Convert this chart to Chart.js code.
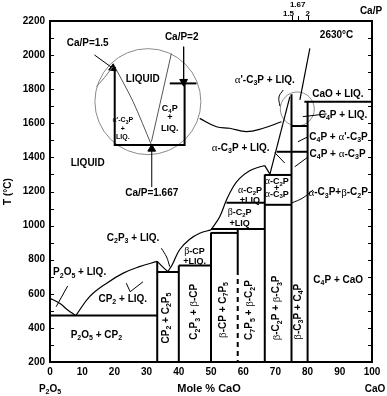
<!DOCTYPE html>
<html>
<head>
<meta charset="utf-8">
<script src="https://cdn.jsdelivr.net/npm/chart.js@4.4.0/dist/chart.umd.min.js"></script>
<style>
  html, body { margin: 0; padding: 0; background: #fff; }
</style>
</head>
<body>
<canvas id="chart" width="387" height="396"></canvas>
<script>
// ---- data (x = mole % CaO, y = T in °C) ----
const tempRange = [200, 2200];
const caPRatios = [1.5, 1.667, 2];

// thick phase boundaries
const boundaries = [
  [[0, 472], [33.3, 472]],
  [[33.3, 200], [33.3, 790]],
  [[33.3, 728], [40, 728]],
  [[40, 200], [40, 766]],
  [[40, 766], [50, 766]],
  [[50, 200], [50, 960]],
  [[50, 957], [58.3, 957]],
  [[58.3, 980], [58.3, 740]],
  [[50, 980], [66.7, 980]],
  [[66.7, 200], [66.7, 1300]],
  [[54.8, 1134], [66.7, 1134]],
  [[66.7, 1122], [75, 1122]],
  [[66.7, 1297], [75, 1297]],
  [[75, 200], [75, 1770]],
  [[70.4, 1433], [80, 1433]],
  [[75, 1584], [80, 1584]],
  [[80, 200], [80, 1727]],
  [[79, 1727], [100, 1727]]
];
const dashedC7P5 = [[58.3, 740], [58.3, 200]];

// liquidus curves
const liqP2O5 = [[0, 574], [3, 544], [5.5, 505], [8, 472]];
const liqCP2 = [[8, 472], [12.3, 583], [17.5, 661], [22.6, 720], [27.8, 759], [33.3, 790]];
const liqC2P3 = [[33.3, 790], [35, 758], [36.6, 730]];
const liqBCP = [[36.6, 730], [38, 772], [40.3, 860], [43.4, 920], [46.5, 955], [50, 975]];
const liqC2P = [[50, 975], [52.7, 1052], [54.8, 1150], [56.9, 1228], [58.9, 1277], [62, 1322], [65.2, 1345], [66.7, 1352]];
const liqC2Pdown = [[66.7, 1352], [68.3, 1302]];
const liqC3P = [[68.3, 1302], [74.5, 1756]];
const liqCaO = [[77.6, 1737], [80.7, 2040]];
const zoomLink = [[46.5, 1629], [51.7, 1580], [55.8, 1571], [61, 1551], [66.2, 1571], [71.9, 1609]];

// magnified inset (drawn in the big circle)
const insetBox = [[20.1, 1932], [20.1, 1473], [41.8, 1473], [41.8, 1834]];
const insetTop = [[37.2, 1834], [45.5, 1834]];
const insetLiqA = [[20.1, 1932], [25.8, 1727], [31.5, 1473]];
const insetLiqB = [[31.5, 1492], [37.7, 2010]];
const insetLiqLeft = [[19.5, 1932], [17, 1870], [14.4, 1815]];
const bigCircle = [[30.4, 1727]];
const smallCircle = [[76.8, 1684]];

// leader lines
const pointers = [
  [[5.5, 646], [1.9, 524]],
  [[23.7, 662], [24.9, 612], [28.9, 671]],
  [[69.8, 1428], [72.9, 1367]],
  [[85.9, 1655], [78.5, 1639]],
  [[80.1, 1521], [77, 1492]],
  [[80.1, 1402], [76, 1345]]
];
const curvedPointers = [
  [[34.6, 867], [36.2, 816], [37.2, 759]],
  [[72.4, 1795], [71.1, 1754], [71.4, 1701]],
  [[75.1, 1133], [78.5, 1162], [81.7, 1209]]
];

// arrows: [from, to]
const arrowCaP15 = [[13.8, 2001], [19.5, 1923]];
const arrowCaP2 = [[41.5, 2049], [41.5, 1844]];
const arrowCaP1667 = [[31.6, 1226], [31.6, 1450]];

// text (x, T); "_n" = subscript
const mainLabels = [
  ['LIQUID', 11.7, 1367], ['LIQUID', 28.8, 1860],
  ['Ca/P=1.5', 11.7, 2071], ['Ca/P=2', 40.9, 2106], ['Ca/P=1.667', 31.6, 1191],
  ['2630°C', 89, 2118], ["α'-C_3P + LIQ.", 66.7, 1854], ['CaO + LIQ.', 89.4, 1772],
  ['C_4P + LIQ.', 91, 1649], ["C_4P + α'-C_3P", 89.6, 1521], ['C_4P + α-C_3P', 89.3, 1420],
  ['α-C_3P + LIQ.', 59.2, 1453], ['C_2P_3 + LIQ.', 25.8, 925], ['P_2O_5 + LIQ.', 9.2, 724],
  ['CP_2 + LIQ.', 22.6, 568], ['P_2O_5 + CP_2', 14.4, 358], ['C_4P + CaO', 89.5, 681],
  ['α-C_3P+β-C_2P', 89.5, 1193]
];
const smallLabels = [
  ['α-C_2P', 62.1, 1205], ['+LIQ', 62.1, 1150], ['β-C_2P', 58.9, 1076], ['+LIQ', 58.9, 1013],
  ['β-CP', 44.9, 847], ['+LIQ.', 44.9, 788],
  ['α-C_2P', 70.4, 1257], ['+', 70.4, 1218], ['α-C_3P', 70.4, 1185],
  ['C_4P', 37.2, 1684], ['+', 37.2, 1631], ['LIQ.', 37.2, 1567]
];
const insetLabels = [["α'-C_3P", 22.6, 1619], ['+', 22.6, 1565], ['LIQ.', 22.6, 1518]];
const rotatedLabels = [
  ['CP_2 + C_2P_5', 36.1, 458], ['C_2P_3 + β-CP', 44.9, 495], ['β-CP + C_7P_5', 53.7, 505],
  ['C_7P_5 + β-C_2P', 62, 505], ['β-C_2P + β-C_3P', 70.4, 517], ['β-C_3P + C_4P', 77.1, 495]
];

// ---- helpers ----
const FONT = '"Liberation Sans", Arial, sans-serif';
const pts = arr => arr.map(p => ({ x: p[0], y: p[1] }));

function line(arr, width, opts) {
  return Object.assign({
    data: pts(arr), showLine: true, borderColor: '#000', borderWidth: width,
    pointRadius: 0, tension: 0, fill: false
  }, opts || {});
}

function arrow(arr, rot) {
  return line(arr, 1, {
    pointRadius: [0, 4.5], pointStyle: 'triangle', pointRotation: [0, rot],
    pointBackgroundColor: '#000', pointBorderColor: '#000'
  });
}

function circle(arr, r) {
  return {
    data: pts(arr), showLine: false, pointRadius: r, pointBorderWidth: 1,
    pointBorderColor: '#8a8a8a', pointBackgroundColor: 'rgba(0,0,0,0)'
  };
}

function drawRich(ctx, str, x, y, size, rot) {
  const parts = [];
  for (let i = 0; i < str.length; i++) {
    if (str[i] === '_') parts.push({ c: str[++i], sub: true });
    else parts.push({ c: str[i], sub: false });
  }
  const fontFor = p => {
    const s = p.sub ? Math.round(size * 0.72) : size;
    if (p.c === 'α' || p.c === 'β') return (s + 1) + 'px "Liberation Serif", serif';
    return 'bold ' + s + 'px ' + FONT;
  };
  ctx.save();
  ctx.translate(x, y);
  if (rot) ctx.rotate(rot);
  let w = 0;
  parts.forEach(p => { ctx.font = fontFor(p); p.w = ctx.measureText(p.c).width; w += p.w; });
  let cx = -w / 2;
  ctx.textBaseline = 'middle';
  ctx.textAlign = 'left';
  ctx.fillStyle = '#000';
  parts.forEach(p => {
    ctx.font = fontFor(p);
    ctx.fillText(p.c, cx, p.sub ? size * 0.3 : 0);
    cx += p.w;
  });
  ctx.restore();
}

const ratioToMole = r => 200 * r / (2 * r + 1);

const decor = {
  id: 'decor',
  afterDatasetsDraw(chart) {
    const { ctx, chartArea: a, scales: { x, y } } = chart;
    ctx.save();
    ctx.strokeStyle = '#000';
    ctx.lineWidth = 2;
    ctx.strokeRect(a.left, a.top, a.right - a.left, a.bottom - a.top);
    // inward ticks every 100 °C on both sides
    ctx.lineWidth = 1;
    ctx.beginPath();
    for (let t = tempRange[0] + 100; t < tempRange[1]; t += 100) {
      const py = Math.round(y.getPixelForValue(t)) + 0.5;
      ctx.moveTo(a.left, py); ctx.lineTo(a.left + 4, py);
      ctx.moveTo(a.right - 4, py); ctx.lineTo(a.right, py);
    }
    // Ca/P ticks on top
    caPRatios.forEach(r => {
      const px = Math.round(x.getPixelForValue(ratioToMole(r))) + 0.5;
      ctx.moveTo(px, a.top); ctx.lineTo(px, a.top - 5);
    });
    ctx.stroke();
    ctx.restore();

    drawRich(ctx, '1.67', x.getPixelForValue(ratioToMole(1.667)), a.top - 16, 8);
    drawRich(ctx, '1.5', x.getPixelForValue(ratioToMole(1.5)) - 3, a.top - 7, 8);
    drawRich(ctx, '2', x.getPixelForValue(ratioToMole(2)), a.top - 7, 8);
    drawRich(ctx, 'Ca/P', a.right - 1, a.top - 10, 10);

    mainLabels.forEach(l => drawRich(ctx, l[0], x.getPixelForValue(l[1]), y.getPixelForValue(l[2]), 10));
    smallLabels.forEach(l => drawRich(ctx, l[0], x.getPixelForValue(l[1]), y.getPixelForValue(l[2]), 9));
    insetLabels.forEach(l => drawRich(ctx, l[0], x.getPixelForValue(l[1]), y.getPixelForValue(l[2]), 7));
    rotatedLabels.forEach(l => drawRich(ctx, l[0], x.getPixelForValue(l[1]), y.getPixelForValue(l[2]), 10, -Math.PI / 2));

    // axis titles
    drawRich(ctx, 'T (°C)', 8, (a.top + a.bottom) / 2, 10, -Math.PI / 2);
    drawRich(ctx, 'Mole % CaO', (a.left + a.right) / 2 - 2, a.bottom + 27, 11);
    drawRich(ctx, 'P_2O_5', a.left, a.bottom + 27, 10);
    drawRich(ctx, 'CaO', a.right + 3, a.bottom + 27, 10);
  }
};

const datasets = [];
boundaries.forEach(b => datasets.push(line(b, 2)));
datasets.push(line(dashedC7P5, 2, { borderDash: [5, 4] }));
[liqP2O5, liqCP2, liqC2P3, liqBCP, liqC2P].forEach(c => datasets.push(line(c, 1.2, { tension: 0.4 })));
[liqC2Pdown, liqC3P, liqCaO].forEach(c => datasets.push(line(c, 1.2)));
datasets.push(line(zoomLink, 1.2, { tension: 0.4 }));
datasets.push(line(insetBox, 2));
datasets.push(line(insetTop, 2));
datasets.push(line(insetLiqA, 1, { borderColor: '#555', tension: 0.3 }));
datasets.push(line(insetLiqB, 1, { borderColor: '#555' }));
datasets.push(line(insetLiqLeft, 1, { borderColor: '#777', tension: 0.3 }));
pointers.forEach(p => datasets.push(line(p, 1)));
curvedPointers.forEach(p => datasets.push(line(p, 1, { tension: 0.4 })));
datasets.push(arrow(arrowCaP15, 126));
datasets.push(arrow(arrowCaP2, 180));
datasets.push(arrow(arrowCaP1667, 0));
datasets.push(circle(bigCircle, 53));
datasets.push(circle(smallCircle, 17));

const tickFont = { family: FONT, size: 10, weight: 'bold' };

new Chart(document.getElementById('chart'), {
  type: 'scatter',
  data: { datasets },
  options: {
    responsive: false,
    animation: false,
    layout: { autoPadding: false, padding: { top: 21, right: 15, left: 0, bottom: 0 } },
    plugins: { legend: { display: false }, tooltip: { enabled: false } },
    scales: {
      x: {
        type: 'linear', min: 0, max: 100,
        afterFit: s => { s.height = 34; },
        ticks: { stepSize: 10, font: tickFont, color: '#000', padding: 4, maxRotation: 0,
                 callback: v => String(v) },
        grid: { display: false, drawTicks: false },
        border: { color: '#000', width: 2 }
      },
      y: {
        min: tempRange[0], max: tempRange[1],
        afterFit: s => { s.width = 50; },
        ticks: { stepSize: 200, font: tickFont, color: '#000', padding: 5,
                 callback: v => String(v) },
        grid: { display: false, drawTicks: false },
        border: { color: '#000', width: 2 }
      }
    }
  },
  plugins: [decor]
});
</script>
</body>
</html>
